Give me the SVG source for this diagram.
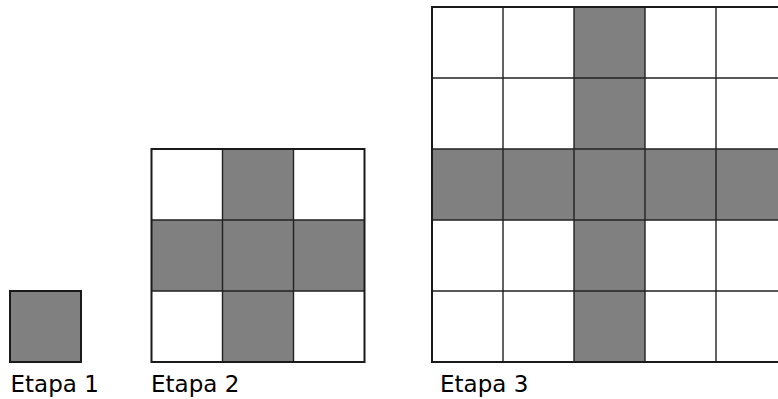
<svg xmlns="http://www.w3.org/2000/svg" width="778" height="399" viewBox="0 0 778 399">
<style>
.g{fill:#808080}
.w{fill:#ffffff}
.ln{stroke:#222;stroke-width:1.4;fill:none}
.bd{stroke:#1a1a1a;stroke-width:2;fill:none}
.t{font-family:"DejaVu Sans",sans-serif;font-size:23px;fill:#000}
</style>
<rect width="778" height="399" fill="#fff"/>
<g id="etapa1">
<rect x="10" y="291" width="71" height="71" class="g"/>
<rect x="10" y="291" width="71" height="71" class="bd"/>
<text x="10.5" y="391.5" class="t">Etapa 1</text>
</g>
<g id="etapa2">
<rect x="151.5" y="149" width="213" height="213" class="w"/>
<rect x="222.5" y="149" width="71" height="213" class="g"/>
<rect x="151.5" y="220" width="213" height="71" class="g"/>
<path class="ln" d="M222.5 149V362M293.5 149V362M151.5 220H364.5M151.5 291H364.5"/>
<rect x="151.5" y="149" width="213" height="213" class="bd"/>
<text x="151" y="391.5" class="t">Etapa 2</text>
</g>
<g id="etapa3">
<rect x="432" y="7" width="355" height="355" class="w"/>
<rect x="574" y="7" width="71" height="355" class="g"/>
<rect x="432" y="149" width="355" height="71" class="g"/>
<path class="ln" d="M503 7V362M574 7V362M645 7V362M716 7V362M432 78H787M432 149H787M432 220H787M432 291H787"/>
<rect x="432" y="7" width="355" height="355" class="bd"/>
<text x="440" y="391.5" class="t">Etapa 3</text>
</g>
</svg>
